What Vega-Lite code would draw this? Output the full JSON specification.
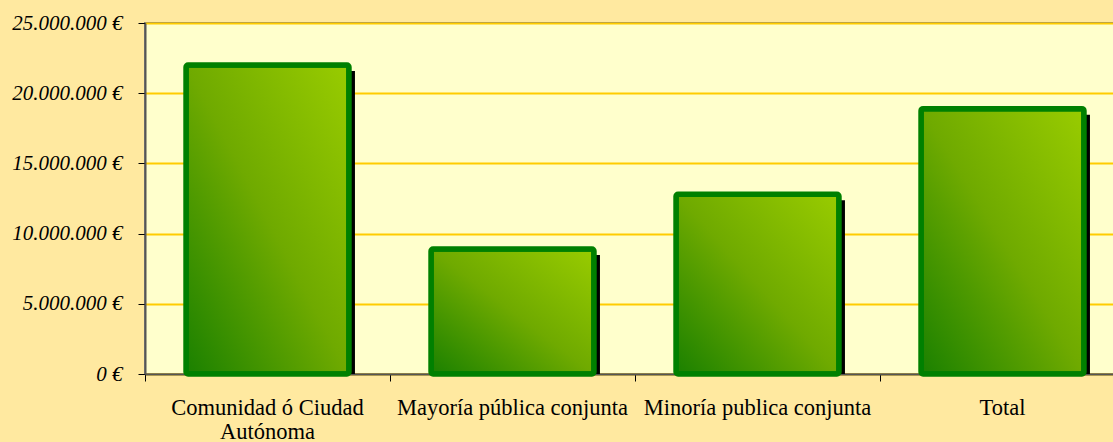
{
  "$schema": "https://vega.github.io/schema/vega-lite/v6.json",
  "autosize": "none",
  "padding": {"left": 145, "top": 23, "right": 0, "bottom": 68},
  "width": 980,
  "height": 351,
  "background": "#FFE9A0",
  "config": {
    "view": {"fill": "#FFFFCC", "stroke": "#808080", "strokeWidth": 2}
  },
  "data": {
    "values": [
      {"categoria": "Comunidad ó Ciudad Autónoma", "importe": 22000000},
      {"categoria": "Mayoría pública conjunta", "importe": 8900000},
      {"categoria": "Minoría publica conjunta", "importe": 12800000},
      {"categoria": "Total", "importe": 18900000}
    ]
  },
  "encoding": {
    "x": {
      "field": "categoria",
      "type": "nominal",
      "sort": null,
      "title": null,
      "axis": {
        "labelAngle": 0,
        "labelFont": "Liberation Serif",
        "labelFontSize": 22.5,
        "labelColor": "#000000",
        "labelPadding": 15,
        "labelLineHeight": 24,
        "labelLimit": 400,
        "labelExpr": "datum.value == 'Comunidad ó Ciudad Autónoma' ? ['Comunidad ó Ciudad', 'Autónoma'] : datum.value",
        "bandPosition": 0,
        "tickSize": 7,
        "tickColor": "#000000",
        "domainColor": "#555555",
        "domainWidth": 2,
        "grid": false
      },
      "scale": {"paddingInner": 0, "paddingOuter": 0}
    },
    "y": {
      "field": "importe",
      "type": "quantitative",
      "title": null,
      "scale": {"domain": [0, 25000000]},
      "axis": {
        "values": [0, 5000000, 10000000, 15000000, 20000000, 25000000],
        "labelExpr": "replace(format(datum.value, ','), regexp(',', 'g'), '.') + ' €'",
        "labelFont": "Liberation Serif",
        "labelFontStyle": "italic",
        "labelFontSize": 21,
        "labelColor": "#000000",
        "labelPadding": 16,
        "tickSize": 7,
        "tickColor": "#000000",
        "domainColor": "#555555",
        "domainWidth": 2,
        "gridColor": "#FFCC00",
        "gridWidth": 2
      }
    }
  },
  "layer": [
    {
      "mark": {"type": "bar", "color": "#000000", "xOffset": 6, "yOffset": 6, "clip": true, "width": {"band": 0.665}}
    },
    {
      "mark": {
        "type": "bar",
        "width": {"band": 0.665},
        "stroke": "#008000",
        "strokeWidth": 5.5,
        "cornerRadius": 2,
        "color": {
          "gradient": "linear",
          "x1": 0, "y1": 1, "x2": 1, "y2": 0,
          "stops": [
            {"offset": 0, "color": "#1A8000"},
            {"offset": 0.5, "color": "#6FAA00"},
            {"offset": 1, "color": "#99CC00"}
          ]
        }
      }
    }
  ]
}
